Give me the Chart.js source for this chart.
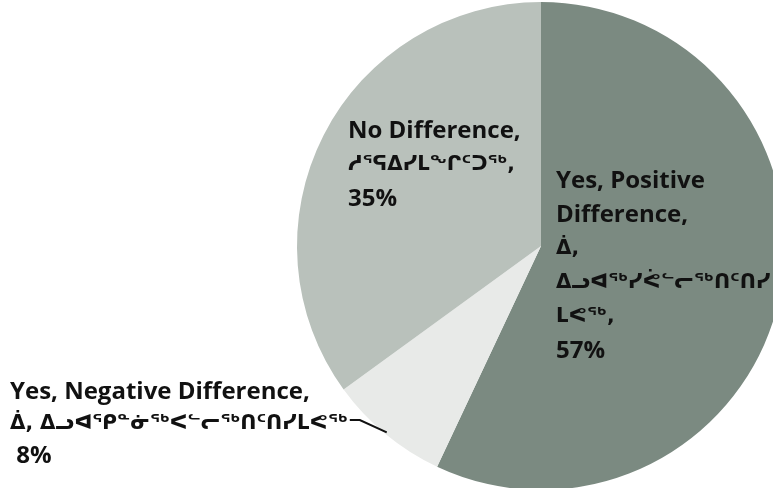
<!DOCTYPE html>
<html>
<head>
<meta charset="utf-8">
<script src="https://cdn.jsdelivr.net/npm/chart.js@4.4.0/dist/chart.umd.min.js"></script>
<style>
  html, body { margin: 0; padding: 0; background: #fff; }
  #wrap { width: 773px; height: 488px; position: relative; }
</style>
</head>
<body>
<div id="wrap"><canvas id="pieChart" width="773" height="488"></canvas></div>
<script>
// data
const categories = ['Yes, Positive Difference', 'Yes, Negative Difference', 'No Difference'];
const shares = [57, 8, 35];
const sliceColors = ['#7b8a81', '#e8eae8', '#b9c1bb'];

// label text for each slice (English + Inuktitut), lines as drawn
const labelLines = [
    ['Yes, Positive', 'Difference,', 'ᐄ,', 'ᐃᓗᐊᖅᓯᕚᓪᓕᖅᑎᑦᑎᓯ', 'ᒪᕙᖅ,', '57%'],
    ['Yes, Negative Difference,', 'ᐄ, ᐃᓗᐊᕿᓐᓃᖅᐸᓪᓕᖅᑎᑦᑎᓯᒪᕙᖅ', ' 8%'],
    ['No Difference,', 'ᓱᕐᕋᐃᓯᒪᖕᒋᑦᑐᖅ,', '35%']
];

const LATIN_FONT = "bold 24px 'Open Sans', 'DejaVu Sans', sans-serif";
const SYL_FONT = "bold 20px 'DejaVu Sans', sans-serif";
const isSyllabic = s => /[\u1400-\u167F]/.test(s);

// label block placement (top-left, line height)
const labelPlaces = [
    { x: 556, y: 181, lh: 34 },
    { x: 10, y: 392, lh: 32 },
    { x: 348, y: 131, lh: 34 }
];

const sliceLabels = {
    id: 'sliceLabels',
    afterDraw(chart) {
        const ctx = chart.ctx;
        ctx.save();
        ctx.fillStyle = '#111';
        ctx.textBaseline = 'middle';
        ctx.textAlign = 'left';
        labelLines.forEach((lines, i) => {
            const p = labelPlaces[i];
            lines.forEach((ln, k) => {
                ctx.font = isSyllabic(ln) ? SYL_FONT : LATIN_FONT;
                ctx.fillText(ln, p.x, p.y + k * p.lh);
            });
        });

        // leader line for the small slice, from the end of its second line
        const p = labelPlaces[1];
        ctx.font = SYL_FONT;
        const sx = p.x + ctx.measureText(labelLines[1][1]).width + 2;
        const sy = p.y + p.lh - 4;
        const arc = chart.getDatasetMeta(0).data[1];
        const mid = (arc.startAngle + arc.endAngle) / 2;
        const ex = arc.x + Math.cos(mid) * (arc.outerRadius - 2);
        const ey = arc.y + Math.sin(mid) * (arc.outerRadius - 2);
        ctx.strokeStyle = '#111';
        ctx.lineWidth = 2;
        ctx.beginPath();
        ctx.moveTo(sx, sy);
        ctx.lineTo(sx + 10, sy);
        ctx.lineTo(ex, ey);
        ctx.stroke();
        ctx.restore();
    }
};

new Chart(document.getElementById('pieChart'), {
    type: 'pie',
    data: {
        labels: categories,
        datasets: [{
            data: shares,
            backgroundColor: sliceColors,
            borderWidth: 0
        }]
    },
    options: {
        responsive: false,
        animation: false,
        radius: 244,
        layout: { padding: { left: 309, top: 4, right: 0, bottom: 0 } },
        plugins: {
            legend: { display: false },
            tooltip: { enabled: false }
        }
    },
    plugins: [sliceLabels]
});
</script>
</body>
</html>
